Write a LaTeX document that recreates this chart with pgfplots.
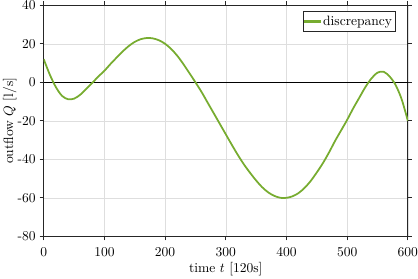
\documentclass[border=0pt]{standalone}
\usepackage{pgfplots}
\pgfplotsset{compat=1.18}
\definecolor{mycolor1}{rgb}{0.46600,0.67400,0.18800}
\begin{document}
\begin{tikzpicture}
\begin{axis}[
  scale only axis,
  width=267.9bp, height=170bp,
  xmin=0, xmax=600, ymin=-80, ymax=40,
  xtick={0,100,...,600}, ytick={-80,-60,...,40},
  tick align=outside,
  xmajorgrids, ymajorgrids,
  grid style={color=black!13, line width=0.4pt},
  axis line style={color=black!85, line width=0.6pt},
  every tick/.style={color=black!85, line width=0.6pt},
  major tick length=3pt,
  /pgf/number format/assume math mode=true,
  xticklabel style={inner xsep=0pt, yshift=-1.7pt},
  yticklabel style={inner ysep=0.4pt, xshift=0.5pt},
  xlabel={time $t$ [120s]},
  ylabel={outflow $Q$ [l/s]},
  xlabel style={inner sep=2.3pt, yshift=2pt},
  ylabel style={inner sep=2.2pt, yshift=-5pt},
  legend style={at={(0.965,0.974)}, anchor=north east, legend cell align=left, draw=black!85, fill=white, inner xsep=0.5pt, inner ysep=1.6pt, nodes={inner sep=1.5pt, text depth=0.15em}},
]
\addplot[black, line width=0.5pt, forget plot] coordinates {(0,0) (600,0)};
\addplot[color=mycolor1, line width=1.3pt, smooth,
  legend image code/.code={\fill[mycolor1] (0cm,-0.65pt) rectangle (0.4cm,0.65pt);}] coordinates {
(0,12) (10,4) (20,-2.5) (30,-7) (40,-8.8) (50,-8.5) (60,-6.5) (70,-3.5) (80,-0.3) (90,3)
(100,6) (110,9.5) (120,12.8) (130,16) (140,18.8) (150,21) (160,22.4) (170,23) (180,22.8) (190,21.8)
(200,20) (210,17.3) (220,13.8) (230,9.5) (240,4.8) (250,0) (260,-5) (270,-10.5) (280,-16) (290,-21.5)
(300,-27) (310,-32.5) (320,-37.8) (330,-42.7) (340,-47) (350,-51) (360,-54.5) (370,-57.2) (380,-59) (390,-60)
(400,-60) (410,-59.2) (420,-57.5) (430,-54.8) (440,-51.2) (450,-46.8) (460,-42) (470,-36.5) (480,-30.5) (490,-25)
(500,-19.5) (510,-13.5) (520,-8) (530,-2.5) (540,2) (550,5) (560,5.5) (570,3) (580,-1.5) (590,-9) (600,-20)
};
\addlegendentry{discrepancy}
\end{axis}
\end{tikzpicture}
\end{document}
